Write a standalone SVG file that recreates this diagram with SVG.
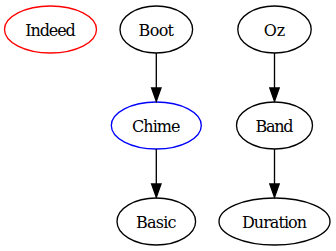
<svg xmlns="http://www.w3.org/2000/svg" width="336" height="251" viewBox="0 0 336 251">
  <style>
    .node ellipse { fill: none; stroke: #000; stroke-width: 1.33; }
    .node text { font-family: 'DejaVu Serif', serif; font-size: 16px; text-anchor: middle; fill: #000; }
    .edge line { stroke: #000; stroke-width: 1.33; }
    .edge polygon { fill: #000; stroke: #000; stroke-width: 1.33; }
  </style>
  <rect width="336" height="251" fill="#fff"/>

  <g id="Indeed" class="node">
    <ellipse cx="50.5" cy="29.5" rx="46" ry="23.5" style="stroke:#ff0000"/>
    <text x="50.5" y="35.5" textLength="50.5">Indeed</text>
  </g>
  <g id="Boot" class="node">
    <ellipse cx="156.3" cy="29.5" rx="36.3" ry="23.5"/>
    <text x="156.3" y="35.5" textLength="35.5">Boot</text>
  </g>
  <g id="Oz" class="node">
    <ellipse cx="274.5" cy="29.5" rx="36.7" ry="23.5"/>
    <text x="274.5" y="35.5" textLength="21.5">Oz</text>
  </g>
  <g id="Chime" class="node">
    <ellipse cx="156.3" cy="125.5" rx="45" ry="23.5" style="stroke:#0000ff"/>
    <text x="156.3" y="131.5" textLength="48.5">Chime</text>
  </g>
  <g id="Band" class="node">
    <ellipse cx="274.5" cy="125.5" rx="38" ry="23.5"/>
    <text x="274.5" y="131.5" textLength="38">Band</text>
  </g>
  <g id="Basic" class="node">
    <ellipse cx="156.3" cy="221.5" rx="39.3" ry="23.5"/>
    <text x="156.3" y="227.5" textLength="40.5">Basic</text>
  </g>
  <g id="Duration" class="node">
    <ellipse cx="274.5" cy="221.5" rx="55.5" ry="23.5"/>
    <text x="274.5" y="227.5" textLength="65">Duration</text>
  </g>

  <g id="edges" class="edge">
    <!-- Boot -> Chime -->
    <line x1="156.3" y1="53" x2="156.3" y2="88"/>
    <polygon points="151.6,88 161,88 156.3,101.3"/>
    <!-- Oz -> Band -->
    <line x1="274.5" y1="53" x2="274.5" y2="88"/>
    <polygon points="269.8,88 279.2,88 274.5,101.3"/>
    <!-- Chime -> Basic -->
    <line x1="156.3" y1="149" x2="156.3" y2="184"/>
    <polygon points="151.6,184 161,184 156.3,197.3"/>
    <!-- Band -> Duration -->
    <line x1="274.5" y1="149" x2="274.5" y2="184"/>
    <polygon points="269.8,184 279.2,184 274.5,197.3"/>
  </g>
</svg>
